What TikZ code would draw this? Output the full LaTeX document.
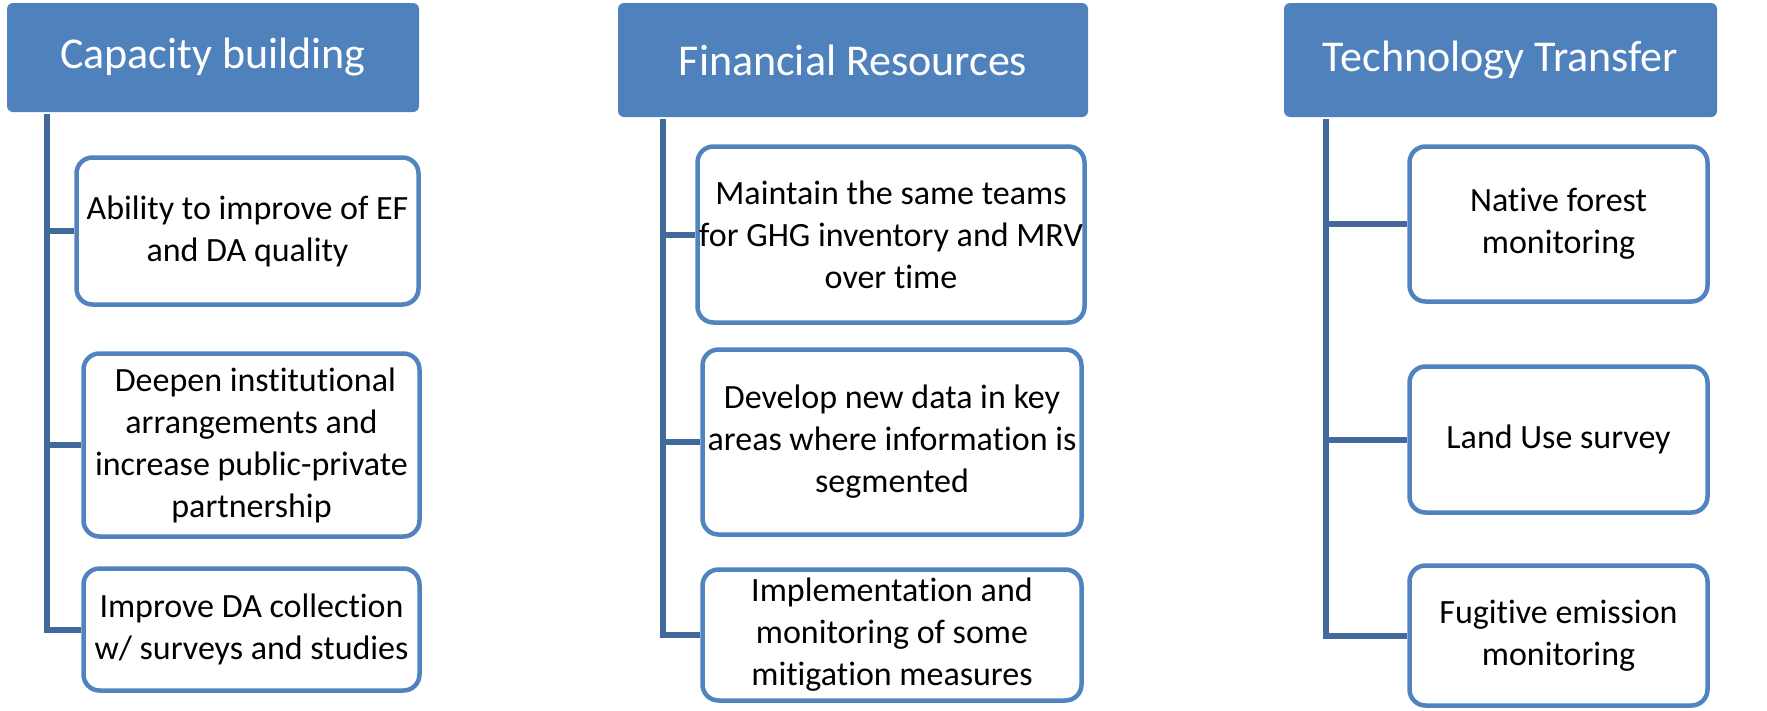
\documentclass[tikz,border=0pt]{standalone}
\usepackage{fontspec}
\setmainfont{Carlito}[Ligatures={NoCommon}]
\definecolor{hdrblue}{HTML}{4F81BD}
\definecolor{boxblue}{HTML}{5183BF}
\definecolor{trunkblue}{HTML}{41699C}
\tikzset{
  hdr/.style={draw=none, fill=hdrblue, rounded corners=6pt, text=white,
    font=\fontsize{44}{53}\selectfont, inner sep=0pt, align=center},
  item/.style={draw=boxblue, line width=4.5pt, fill=white, rounded corners=16pt,
    font=\fontsize{34}{42}\selectfont, inner sep=0pt, align=center},
  trunk/.style={draw=trunkblue, line width=6pt},
}
\begin{document}
\begin{tikzpicture}[x=1pt, y=-1pt]
\useasboundingbox (0,0) rectangle (1767,710);
% headers
\node[hdr, minimum width=412pt, minimum height=109pt] (h1) at (213,57.5) {Capacity building};
\node[hdr, minimum width=470pt, minimum height=114pt] (h2) at (853,60) {Financial Resources};
\node[hdr, minimum width=433pt, minimum height=114pt] (h3) at (1500.5,60) {Technology Transfer};
% column 1
\node[item, minimum width=342pt, minimum height=147pt] (a1) at (247.5,231) {Ability to improve of EF\\and DA quality};
\node[item, minimum width=336pt, minimum height=183pt] (a2) at (251.5,445) {\ Deepen institutional\\arrangements and\\increase public-private\\partnership};
\node[item, minimum width=336pt, minimum height=122pt] (a3) at (251.5,629.5) {Improve DA collection\\w/ surveys and studies};
% column 2
\node[item, minimum width=387pt, minimum height=176pt] (b1) at (891,234.5) {Maintain the same teams\\for GHG inventory and MRV\\over time};
\node[item, minimum width=379pt, minimum height=185pt] (b2) at (892,442) {Develop new data in key\\areas where information is\\segmented};
\node[item, minimum width=379pt, minimum height=131pt] (b3) at (892,635) {Implementation and\\monitoring of some\\mitigation measures};
% column 3
\node[item, minimum width=298pt, minimum height=155pt] (c1) at (1558.5,224) {Native forest\\monitoring};
\node[item, minimum width=298pt, minimum height=146pt] (c2) at (1558.5,439.5) {Land Use survey};
\node[item, minimum width=298pt, minimum height=140pt] (c3) at (1558.5,635.5) {Fugitive emission\\monitoring};
% trunk coordinates
\coordinate (t1) at (47,114);
\coordinate (t2) at (663,119);
\coordinate (t3) at (1326,119);
% connectors column 1
\draw[trunk] (t1) -- (t1 |- a3.west) -- (a3.west);
\draw[trunk] (t1 |- a1.west) -- (a1.west);
\draw[trunk] (t1 |- a2.west) -- (a2.west);
% connectors column 2
\draw[trunk] (t2) -- (t2 |- b3.west) -- (b3.west);
\draw[trunk] (t2 |- b1.west) -- (b1.west);
\draw[trunk] (t2 |- b2.west) -- (b2.west);
% connectors column 3
\draw[trunk] (t3) -- (t3 |- c3.west) -- (c3.west);
\draw[trunk] (t3 |- c1.west) -- (c1.west);
\draw[trunk] (t3 |- c2.west) -- (c2.west);
\end{tikzpicture}
\end{document}
